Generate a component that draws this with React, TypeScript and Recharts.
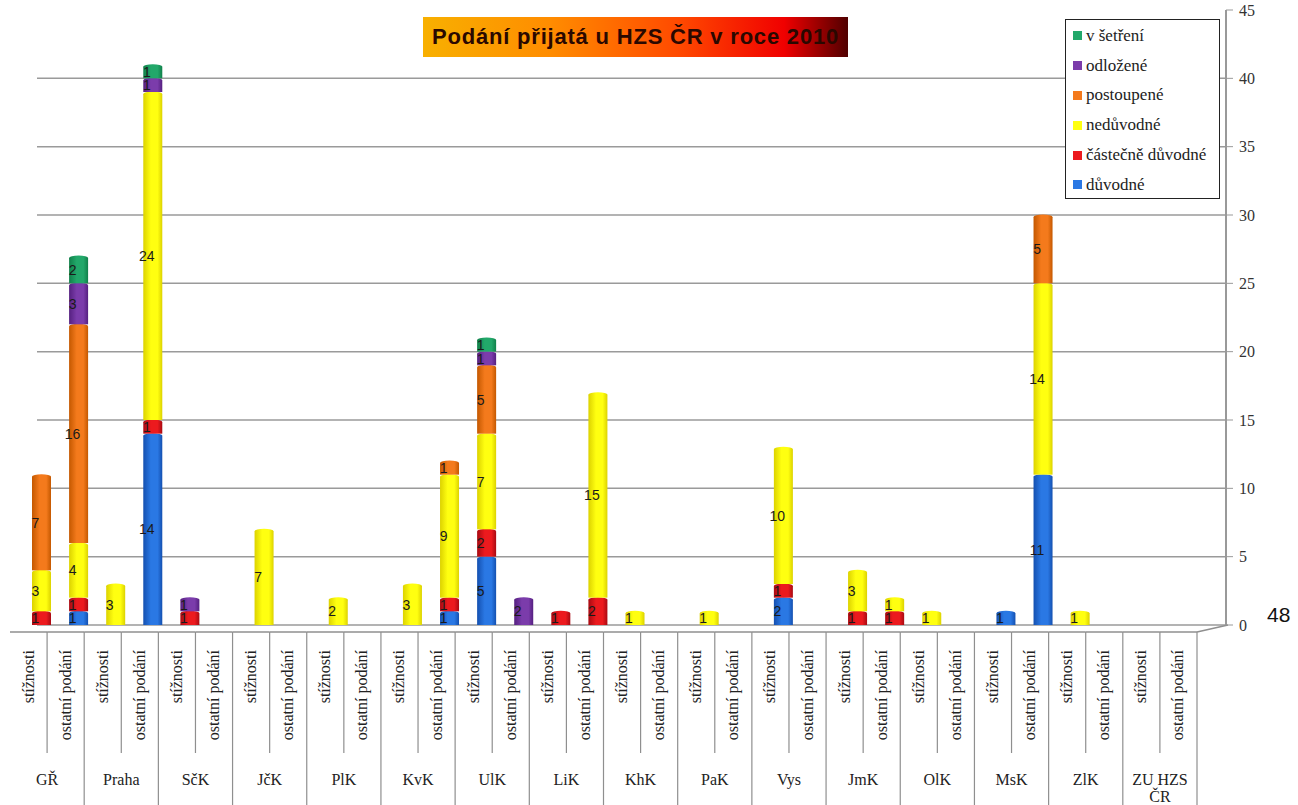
import React from "react";
import { BarChart, Bar, XAxis, YAxis, CartesianGrid, Legend, LabelList } from "recharts";

// regions (group labels) and the two sub-categories under each of them
const regions = ["GŘ", "Praha", "SčK", "JčK", "PlK", "KvK", "UlK", "LiK", "KhK", "PaK", "Vys", "JmK", "OlK", "MsK", "ZlK", "ZU HZS ČR"];
const subTypes = ["stížnosti", "ostatní podání"];

// one value per bar: stížnosti, ostatní podání for each region in order
const duvodne = [0, 1, 0, 14, 0, 0, 0, 0, 0, 0, 0, 1, 5, 0, 0, 0, 0, 0, 0, 0, 2, 0, 0, 0, 0, 0, 1, 11, 0, 0, 0, 0];
const castecne = [1, 1, 0, 1, 1, 0, 0, 0, 0, 0, 0, 1, 2, 0, 1, 2, 0, 0, 0, 0, 1, 0, 1, 1, 0, 0, 0, 0, 0, 0, 0, 0];
const neduvodne = [3, 4, 3, 24, 0, 0, 7, 0, 2, 0, 3, 9, 7, 0, 0, 15, 1, 0, 1, 0, 10, 0, 3, 1, 1, 0, 0, 14, 1, 0, 0, 0];
const postoupene = [7, 16, 0, 0, 0, 0, 0, 0, 0, 0, 0, 1, 5, 0, 0, 0, 0, 0, 0, 0, 0, 0, 0, 0, 0, 0, 0, 5, 0, 0, 0, 0];
const odlozene = [0, 3, 0, 1, 1, 0, 0, 0, 0, 0, 0, 0, 1, 2, 0, 0, 0, 0, 0, 0, 0, 0, 0, 0, 0, 0, 0, 0, 0, 0, 0, 0];
const vSetreni = [0, 2, 0, 1, 0, 0, 0, 0, 0, 0, 0, 0, 1, 0, 0, 0, 0, 0, 0, 0, 0, 0, 0, 0, 0, 0, 0, 0, 0, 0, 0, 0];

const yTicks = [0, 5, 10, 15, 20, 25, 30, 35, 40, 45];
const gridValues = [0, 5, 10, 15, 20, 25, 30, 35, 40];

// stacking order bottom -> top
const series = [
    { key: "duvodne", name: "důvodné", values: duvodne, base: "#2a78e4", edge: "#1450b0" },
    { key: "castecne", name: "částečně důvodné", values: castecne, base: "#ec1a1e", edge: "#a80a12" },
    { key: "neduvodne", name: "nedůvodné", values: neduvodne, base: "#ffff10", edge: "#dcd200" },
    { key: "postoupene", name: "postoupené", values: postoupene, base: "#f47a1c", edge: "#c45800" },
    { key: "odlozene", name: "odložené", values: odlozene, base: "#7b3cab", edge: "#552080" },
    { key: "vSetreni", name: "v šetření", values: vSetreni, base: "#22a86a", edge: "#10804a" },
];

const rows = regions.flatMap((region, ri) =>
    subTypes.map((sub, si) => {
        const row: any = { cat: `${region}|${sub}` };
        series.forEach((s) => (row[s.key] = s.values[ri * 2 + si]));
        return row;
    })
);

const W = 1298;
const H = 805;
const PLOT_LEFT = 23;
const PLOT_RIGHT = 1226;
const PAD_RIGHT = 16;
const BAND = (PLOT_RIGHT - PAD_RIGHT - PLOT_LEFT) / rows.length;
const LABEL_SHIFT = -13; // labels sit a bit left of the bars (3D look of the original)
const serif = "'Liberation Serif', 'Times New Roman', serif";
const sans = "'Liberation Sans', Arial, sans-serif";

const XTick = (props: any) => {
    const { x, y, payload } = props;
    const [region, sub] = String(payload.value).split("|");
    const idx = payload.index;
    const cx = x + LABEL_SHIFT;
    const left = cx - BAND / 2;
    const right = cx + BAND / 2;
    const first = sub === subTypes[0];
    const floorY = y + 7;
    const words = region.split(" ");
    const lines = words.length > 2 ? [words.slice(0, -1).join(" "), words[words.length - 1]] : [region];
    return (
        <g>
            <line x1={left} y1={floorY} x2={right} y2={floorY} stroke="#8f8f8f" strokeWidth={1.5} />
            <line x1={right} y1={floorY} x2={right} y2={first ? y + 128 : H} stroke="#8f8f8f" strokeWidth={1.2} />
            {idx === rows.length - 1 && (
                <line x1={right} y1={floorY} x2={PLOT_RIGHT + 2} y2={y} stroke="#8f8f8f" strokeWidth={1.5} />
            )}
            <text
                transform={`translate(${cx + 5},${y + 25}) rotate(-90)`}
                textAnchor="end"
                fontFamily={serif}
                fontSize={16}
                fill="#222"
            >
                {sub}
            </text>
            {!first &&
                lines.map((l, k) => (
                    <text key={k} x={left} y={y + 160 + k * 17} textAnchor="middle" fontFamily={serif} fontSize={16} fill="#222">
                        {l}
                    </text>
                ))}
        </g>
    );
};

const SegLabel = (p: any) => {
    const { x, y, width, height, value } = p;
    if (!value) return null;
    return (
        <text
            x={x + width / 2 - 6}
            y={y + height / 2}
            dominantBaseline="central"
            textAnchor="middle"
            fontFamily={sans}
            fontSize={14}
            fill="#1a1a1a"
        >
            {value}
        </text>
    );
};

// flat rect with side shading + a small elliptic cap, like the excel cylinders
const Cylinder = (props: any) => {
    const { x, y, width, height, gradId } = props;
    if (!height || height <= 0) return null;
    return (
        <g>
            <rect x={x} y={y + 2} width={width} height={height - 2} fill={`url(#${gradId})`} />
            <ellipse cx={x + width / 2} cy={y + 2} rx={width / 2} ry={2.5} fill={`url(#${gradId})`} />
        </g>
    );
};

// legend lists the series top of the stack first
const LegendBox = () => {
    const items = [...series].reverse();
    return (
        <div
            style={{
                border: "1.5px solid #222",
                background: "#fff",
                width: 155,
                height: 180,
                boxSizing: "border-box",
                padding: "1px 0 0 7px",
                fontFamily: serif,
                fontSize: 17,
                color: "#222",
            }}
        >
            {items.map((it) => (
                <div key={it.key} style={{ display: "flex", alignItems: "center", height: 29.8, whiteSpace: "nowrap" }}>
                    <span style={{ width: 9, height: 9, background: it.base, marginRight: 4, display: "inline-block", flex: "none" }} />
                    {it.name}
                </div>
            ))}
        </div>
    );
};

export default function App() {
    return (
        <div style={{ position: "absolute", left: 0, top: 0, width: W, height: H, background: "#fff" }}>
            <BarChart
                width={W}
                height={H}
                data={rows}
                margin={{ top: 10, right: 0, left: PLOT_LEFT, bottom: 0 }}
                barCategoryGap={0}
            >
                <defs>
                    {series.map((s) => (
                        <linearGradient key={s.key} id={`g-${s.key}`} x1="0" y1="0" x2="1" y2="0">
                            <stop offset="0%" stopColor={s.edge} />
                            <stop offset="40%" stopColor={s.base} />
                            <stop offset="75%" stopColor={s.base} />
                            <stop offset="100%" stopColor={s.edge} />
                        </linearGradient>
                    ))}
                </defs>
                <CartesianGrid
                    vertical={false}
                    stroke="#9a9a9a"
                    strokeWidth={1.5}
                    x={37}
                    width={PLOT_RIGHT - 37}
                    horizontalValues={gridValues}
                />
                <XAxis
                    dataKey="cat"
                    interval={0}
                    height={180}
                    axisLine={false}
                    tickLine={false}
                    tickSize={0}
                    tickMargin={0}
                    padding={{ left: 0, right: PAD_RIGHT }}
                    tick={<XTick />}
                />
                <YAxis
                    orientation="right"
                    width={72}
                    domain={[0, 45]}
                    ticks={yTicks}
                    interval={0}
                    axisLine={{ stroke: "#999", strokeWidth: 2 }}
                    tickLine={{ stroke: "#999" }}
                    tickSize={7}
                    tickMargin={6}
                    tick={{ fill: "#333", fontSize: 16, fontFamily: serif }}
                />
                <Legend
                    layout="vertical"
                    align="center"
                    verticalAlign="middle"
                    content={<LegendBox />}
                    wrapperStyle={{ left: 1065, top: 19, width: 155, height: 180 }}
                />
                {series.map((s) => (
                    <Bar
                        key={s.key}
                        dataKey={s.key}
                        name={s.name}
                        stackId="a"
                        fill={s.base}
                        barSize={19}
                        isAnimationActive={false}
                        shape={(p: any) => <Cylinder {...p} gradId={`g-${s.key}`} />}
                    >
                        <LabelList dataKey={s.key} content={<SegLabel />} />
                    </Bar>
                ))}
            </BarChart>
            <div
                style={{
                    position: "absolute",
                    left: 423,
                    top: 17,
                    width: 425,
                    height: 40,
                    background: "linear-gradient(90deg, #f8b000 0%, #ff8c00 30%, #ff4a00 60%, #f00000 85%, #500000 100%)",
                    fontFamily: sans,
                    fontWeight: 700,
                    fontSize: 22,
                    letterSpacing: 0.8,
                    lineHeight: "40px",
                    textAlign: "center",
                    color: "#2a0800",
                    whiteSpace: "nowrap",
                }}
            >
                Podání přijatá u HZS ČR v roce 2010
            </div>
            <div style={{ position: "absolute", left: 1267, top: 603, fontFamily: sans, fontSize: 21, color: "#111" }}>48</div>
        </div>
    );
}
